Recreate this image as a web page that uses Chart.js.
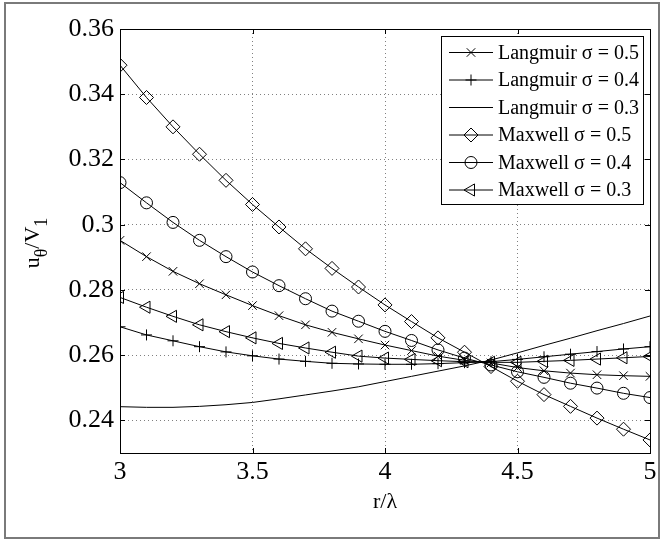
<!DOCTYPE html>
<html>
<head>
<meta charset="utf-8">
<script src="https://cdn.jsdelivr.net/npm/chart.js@4.4.0/dist/chart.umd.min.js"></script>
<style>
    html, body { margin: 0; padding: 0; background: #fff; }
    #wrap { width: 664px; height: 541px; }
</style>
</head>
<body>
<div id="wrap"><canvas id="velChart" width="664" height="541"></canvas></div>
<script>
// r/lambda sample positions (markers every 0.1)
const rValues = [3.0, 3.1, 3.2, 3.3, 3.4, 3.5, 3.6, 3.7, 3.8, 3.9, 4.0,
                 4.1, 4.2, 4.3, 4.4, 4.5, 4.6, 4.7, 4.8, 4.9, 5.0];

const langmuir05 = [0.2952, 0.2902, 0.2857, 0.2819, 0.2785, 0.2752, 0.2721, 0.2693, 0.2670, 0.2650, 0.2631,
                    0.2614, 0.2597, 0.2584, 0.2576, 0.2562, 0.2552, 0.2545, 0.2540, 0.2537, 0.2535];
const langmuir04 = [0.2687, 0.2662, 0.2644, 0.2626, 0.2610, 0.2598, 0.2588, 0.2581, 0.2575, 0.2573, 0.2572,
                    0.2572, 0.2574, 0.2577, 0.2580, 0.2587, 0.2595, 0.2603, 0.2611, 0.2619, 0.2626];
const langmuir03 = [0.2442, 0.2440, 0.2440, 0.2443, 0.2448, 0.2455, 0.2466, 0.2478, 0.2490, 0.2503, 0.2519,
                    0.2535, 0.2551, 0.2567, 0.2585, 0.2607, 0.2630, 0.2652, 0.2675, 0.2697, 0.2720];
const maxwell05  = [0.3489, 0.3390, 0.3300, 0.3216, 0.3136, 0.3062, 0.2993, 0.2926, 0.2866, 0.2809, 0.2754,
                    0.2703, 0.2653, 0.2609, 0.2565, 0.2520, 0.2479, 0.2443, 0.2407, 0.2373, 0.2340];
const maxwell04  = [0.3129, 0.3067, 0.3007, 0.2952, 0.2902, 0.2855, 0.2813, 0.2773, 0.2735, 0.2704, 0.2673,
                    0.2645, 0.2616, 0.2591, 0.2570, 0.2549, 0.2532, 0.2514, 0.2499, 0.2483, 0.2470];
const maxwell03  = [0.2777, 0.2747, 0.2719, 0.2693, 0.2672, 0.2653, 0.2636, 0.2622, 0.2609, 0.2597, 0.2591,
                    0.2587, 0.2583, 0.2580, 0.2578, 0.2578, 0.2581, 0.2584, 0.2588, 0.2592, 0.2596];

const seriesLabels = ['Langmuir σ = 0.5', 'Langmuir σ = 0.4', 'Langmuir σ = 0.3',
                      'Maxwell σ = 0.5', 'Maxwell σ = 0.4', 'Maxwell σ = 0.3'];

const xTicks = [3, 3.5, 4, 4.5, 5];
const yTicks = [0.24, 0.26, 0.28, 0.3, 0.32, 0.34, 0.36];

const serif = '"Liberation Serif", "Times New Roman", serif';

function toPoints(values) {
    return rValues.map((r, i) => ({ x: r, y: values[i] }));
}

function makeDataset(label, values, marker, radius, rotation) {
    return {
        label: label,
        data: toPoints(values),
        borderColor: '#000',
        borderWidth: 1,
        backgroundColor: 'rgba(0,0,0,0)',
        pointStyle: marker || 'circle',
        pointRadius: marker ? radius : 0,
        pointRotation: rotation || 0,
        pointBorderColor: '#000',
        pointBackgroundColor: 'rgba(0,0,0,0)',
        pointBorderWidth: 1,
        tension: 0,
        fill: false
    };
}

// outer frame of the figure
const figureFrame = {
    id: 'figureFrame',
    beforeDraw(chart) {
        const ctx = chart.ctx;
        ctx.save();
        ctx.fillStyle = '#fff';
        ctx.fillRect(0, 0, chart.width, chart.height);
        ctx.strokeStyle = '#7a7a7a';
        ctx.lineWidth = 2;
        ctx.strokeRect(5, 3, 654, 535);
        ctx.restore();
    }
};

// box, inward ticks, legend and y title
const axesBox = {
    id: 'axesBox',
    afterDatasetsDraw(chart) {
        const ctx = chart.ctx;
        const area = chart.chartArea;
        const xs = chart.scales.x;
        const ys = chart.scales.y;
        const tickLen = 5;

        ctx.save();
        ctx.strokeStyle = '#000';
        ctx.lineWidth = 1;
        ctx.strokeRect(Math.round(area.left) + 0.5, Math.round(area.top) + 0.5,
                       Math.round(area.right - area.left), Math.round(area.bottom - area.top));

        ctx.beginPath();
        xTicks.forEach(v => {
            const px = Math.round(xs.getPixelForValue(v)) + 0.5;
            ctx.moveTo(px, area.top); ctx.lineTo(px, area.top + tickLen);
            ctx.moveTo(px, area.bottom); ctx.lineTo(px, area.bottom - tickLen);
        });
        yTicks.forEach(v => {
            const py = Math.round(ys.getPixelForValue(v)) + 0.5;
            ctx.moveTo(area.left, py); ctx.lineTo(area.left + tickLen, py);
            ctx.moveTo(area.right, py); ctx.lineTo(area.right - tickLen, py);
        });
        ctx.stroke();

        // legend
        const box = { left: 441.5, top: 36.5, width: 202, height: 168 };
        ctx.fillStyle = '#fff';
        ctx.fillRect(box.left, box.top, box.width, box.height);
        ctx.strokeRect(box.left, box.top, box.width, box.height);
        ctx.font = '20px ' + serif;
        ctx.textBaseline = 'middle';
        ctx.textAlign = 'left';
        chart.data.datasets.forEach((ds, i) => {
            const rowY = 52.5 + i * 27.5;
            ctx.strokeStyle = '#000';
            ctx.lineWidth = 1;
            ctx.beginPath();
            ctx.moveTo(449, rowY); ctx.lineTo(493, rowY);
            ctx.stroke();
            if (ds.pointRadius > 0) {
                ctx.fillStyle = 'rgba(0,0,0,0)';
                Chart.helpers.drawPoint(ctx, {
                    pointStyle: ds.pointStyle,
                    radius: ds.pointRadius,
                    rotation: ds.pointRotation,
                    borderWidth: 1
                }, 471, rowY);
            }
            ctx.fillStyle = '#000';
            ctx.fillText(ds.label, 498, rowY + 1);
        });

        // y axis title u_theta / V_1
        const mainFont = '22px ' + serif;
        const subFont = '18px ' + serif;
        const parts = [
            { t: 'u', f: mainFont, dy: 0 },
            { t: 'θ', f: subFont, dy: 8 },
            { t: '/V', f: mainFont, dy: 0 },
            { t: '1', f: subFont, dy: 8 }
        ];
        let total = 0;
        parts.forEach(p => { ctx.font = p.f; p.w = ctx.measureText(p.t).width; total += p.w; });
        ctx.translate(39, (area.top + area.bottom) / 2 + 2);
        ctx.rotate(-Math.PI / 2);
        ctx.textBaseline = 'alphabetic';
        ctx.fillStyle = '#000';
        let cx = -total / 2;
        parts.forEach(p => {
            ctx.font = p.f;
            ctx.fillText(p.t, cx, p.dy);
            cx += p.w;
        });
        ctx.restore();
    }
};

Chart.defaults.font.family = serif;
Chart.defaults.color = '#000';

const chart = new Chart(document.getElementById('velChart').getContext('2d'), {
    type: 'line',
    data: {
        datasets: [
            makeDataset(seriesLabels[0], langmuir05, 'crossRot', 6),
            makeDataset(seriesLabels[1], langmuir04, 'cross', 5.5),
            makeDataset(seriesLabels[2], langmuir03, null, 0),
            makeDataset(seriesLabels[3], maxwell05, 'rectRot', 7),
            makeDataset(seriesLabels[4], maxwell04, 'circle', 6),
            makeDataset(seriesLabels[5], maxwell03, 'triangle', 7, -90)
        ]
    },
    options: {
        responsive: false,
        animation: false,
        layout: {
            padding: { left: 0, right: 14, top: 29, bottom: 0 }
        },
        plugins: {
            legend: { display: false },
            tooltip: { enabled: false }
        },
        scales: {
            x: {
                type: 'linear',
                min: 3,
                max: 5,
                afterBuildTicks: s => { s.ticks = xTicks.map(v => ({ value: v })); },
                afterFit: s => { s.height = 88; },
                ticks: {
                    padding: 4,
                    font: { size: 26 },
                    callback: v => String(v)
                },
                grid: {
                    color: '#808080',
                    lineWidth: 1,
                    drawTicks: false
                },
                border: { display: false, dash: [1, 3] },
                title: {
                    display: true,
                    text: 'r/λ',
                    font: { size: 22 },
                    padding: { top: 0, bottom: 26 }
                }
            },
            y: {
                type: 'linear',
                min: 0.23,
                max: 0.36,
                afterBuildTicks: s => { s.ticks = yTicks.map(v => ({ value: v })); },
                afterFit: s => { s.width = 120; },
                ticks: {
                    padding: 6,
                    font: { size: 26 },
                    callback: v => String(v)
                },
                grid: {
                    color: '#808080',
                    lineWidth: 1,
                    drawTicks: false
                },
                border: { display: false, dash: [1, 3] }
            }
        }
    },
    plugins: [figureFrame, axesBox]
});
</script>
</body>
</html>
